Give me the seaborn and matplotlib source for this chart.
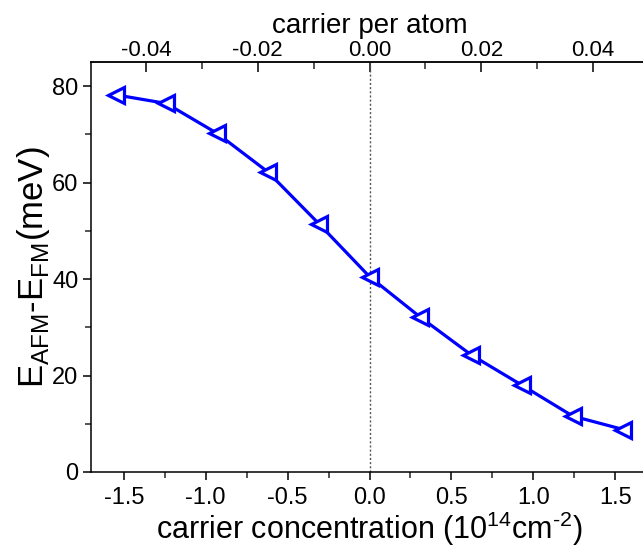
import matplotlib
matplotlib.use("Agg")
import matplotlib.pyplot as plt
import seaborn as sns
from matplotlib.ticker import MultipleLocator, FixedLocator

# data
carrier_conc = [-1.55, -1.24, -0.93, -0.62, -0.31, 0.0, 0.31, 0.62, 0.93, 1.24, 1.55]
energy_diff = [78.2, 76.4, 70.2, 62.2, 51.5, 40.5, 32.1, 24.3, 18.0, 11.6, 8.8]

# top axis ticks (carrier per atom)
top_major = [-0.04, -0.02, 0.0, 0.02, 0.04]
top_minor = [-0.03, -0.01, 0.01, 0.03]

# 10^14 cm^-2 -> carrier per atom
per_atom_factor = 0.0293

sns.set_style("ticks")
plt.rcParams["font.family"] = ["Liberation Sans", "DejaVu Sans"]
plt.rcParams["mathtext.fontset"] = "custom"
plt.rcParams["mathtext.rm"] = "Liberation Sans"
plt.rcParams["axes.unicode_minus"] = False
plt.rcParams["text.color"] = "black"
plt.rcParams["axes.labelcolor"] = "black"

fig = plt.figure(figsize=(6.43, 5.54), dpi=100)
ax = fig.add_axes([91 / 643, (554 - 472) / 554, (648 - 91) / 643, (472 - 62) / 554])

ax.axvline(0, color="#555555", linestyle=(0, (1.5, 1.5)), linewidth=1)

sns.lineplot(
    x=carrier_conc, y=energy_diff, ax=ax,
    color="#0000ff", linewidth=2.3,
    marker="<", markersize=12, markerfacecolor="white",
    markeredgecolor="#0000ff", markeredgewidth=2.3,
)

ax.set_xlim(-1.7, 1.7)
ax.set_ylim(0, 85)

ax.xaxis.set_major_locator(MultipleLocator(0.5))
ax.xaxis.set_minor_locator(MultipleLocator(0.25))
ax.yaxis.set_major_locator(MultipleLocator(20))
ax.yaxis.set_minor_locator(MultipleLocator(10))
ax.xaxis.set_major_formatter(plt.FuncFormatter(lambda v, p: f"{v:.1f}"))

for s in ax.spines.values():
    s.set_linewidth(1.1)
    s.set_color("black")

ax.tick_params(axis="both", which="major", direction="out", length=6, width=1.1,
               labelsize=17, pad=3, colors="black")
ax.tick_params(axis="both", which="minor", direction="out", length=4, width=1.1)
ax.tick_params(axis="x", which="major", pad=5)

ax.set_xlabel(r"carrier concentration (10$^{14}$cm$^{\text{-2}}$)", fontsize=22, labelpad=0)
ax.set_ylabel(r"E$_{\mathregular{AFM}}$-E$_{\mathregular{FM}}$(meV)", fontsize=25, labelpad=0)

top = ax.secondary_xaxis("top", functions=(lambda v: v * per_atom_factor,
                                            lambda v: v / per_atom_factor))
top.xaxis.set_major_locator(FixedLocator(top_major))
top.xaxis.set_minor_locator(FixedLocator(top_minor))
top.xaxis.set_major_formatter(plt.FuncFormatter(lambda v, p: f"{v:.2f}"))
top.tick_params(axis="x", which="major", direction="in", length=7, width=1.1,
                labelsize=16, pad=1, colors="black")
top.tick_params(axis="x", which="minor", direction="in", length=5, width=1.1)
top.spines["top"].set_linewidth(1.1)
top.set_xlabel("carrier per atom", fontsize=20, labelpad=5)

fig.savefig("out.png", dpi=100)
